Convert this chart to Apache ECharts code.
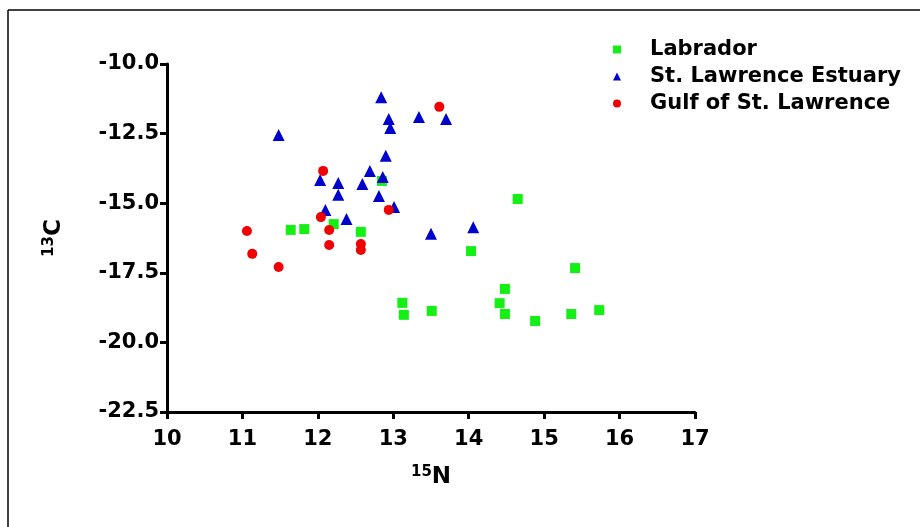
<!DOCTYPE html>
<html>
<head>
<meta charset="utf-8">
<script src="https://cdn.jsdelivr.net/npm/echarts@6/dist/echarts.min.js"></script>
<style>html,body{margin:0;padding:0;background:#fff;}#c{width:920px;height:527px;}</style>
</head>
<body>
<div id="c"></div>
<script>
const seriesNames = ['Labrador', 'St. Lawrence Estuary', 'Gulf of St. Lawrence'];
const labradorN = [11.64, 11.82, 12.21, 12.57, 12.85, 13.12, 13.14, 13.51, 14.03, 14.65, 14.41, 14.48, 14.48, 14.88, 15.36, 15.41, 15.73];
const labradorC = [-15.96, -15.93, -15.75, -16.03, -14.2, -18.58, -19.01, -18.87, -16.72, -14.85, -18.59, -18.08, -18.98, -19.23, -18.98, -17.33, -18.84];
const estuaryN = [11.48, 12.03, 12.1, 12.27, 12.27, 12.38, 12.59, 12.69, 12.81, 12.84, 12.86, 12.90, 12.94, 12.96, 13.01, 13.34, 13.50, 13.70, 14.06];
const estuaryC = [-12.55, -14.17, -15.24, -14.27, -14.7, -15.57, -14.31, -13.84, -14.74, -11.19, -14.06, -13.3, -11.98, -12.3, -15.14, -11.9, -16.1, -11.98, -15.86];
const gulfN = [11.06, 11.13, 11.48, 12.04, 12.07, 12.15, 12.15, 12.57, 12.57, 12.94, 13.61];
const gulfC = [-16.0, -16.82, -17.29, -15.5, -13.84, -15.96, -16.5, -16.47, -16.68, -15.24, -11.54];
const xTicks = [10, 11, 12, 13, 14, 15, 16, 17];
const yTicks = [-22.5, -20.0, -17.5, -15.0, -12.5, -10.0];

function pairs(xs, ys) { return xs.map((x, i) => [x, ys[i]]); }

const chart = echarts.init(document.getElementById('c'));
const font = 'DejaVu Sans, Liberation Sans, Arial, sans-serif';
const axisCommon = {
  axisLine: { show: true, onZero: false, lineStyle: { color: '#000', width: 3 } },
  axisTick: { show: true, length: 7, lineStyle: { color: '#000', width: 3 } },
  splitLine: { show: false },
  axisLabel: { color: '#000', fontFamily: font, fontWeight: 'bold', fontSize: 21 }
};
const richName = {
  sup: { fontFamily: font, fontWeight: 'bold', fontSize: 15, verticalAlign: 'top', color: '#000', padding: [0, 0, 10, 0] },
  base: { fontFamily: font, fontWeight: 'bold', fontSize: 23, color: '#000' }
};
chart.setOption({
  animation: false,
  backgroundColor: '#fff',
  grid: { left: 167, right: 225, top: 64, bottom: 115 },
  xAxis: Object.assign({}, axisCommon, {
    type: 'value', min: xTicks[0], max: xTicks[xTicks.length - 1], interval: 1,
    axisLabel: Object.assign({}, axisCommon.axisLabel, { margin: 17 }),
    name: '{sup|15}{base|N}', nameLocation: 'middle', nameGap: 53,
    nameTextStyle: { rich: richName }
  }),
  yAxis: Object.assign({}, axisCommon, {
    type: 'value', min: yTicks[0], max: yTicks[yTicks.length - 1], interval: 2.5,
    axisLabel: Object.assign({}, axisCommon.axisLabel, { margin: 8, formatter: v => v.toFixed(1) }),
    name: '{sup|13}{base|C}', nameLocation: 'middle', nameGap: 100, nameRotate: 90,
    nameTextStyle: { rich: richName }
  }),
  legend: {
    orient: 'vertical', left: 608, top: 34, itemGap: 6, itemWidth: 8, itemHeight: 8,
    textStyle: { color: '#000', fontFamily: font, fontWeight: 'bold', fontSize: 21, padding: [0, 0, 0, 24] },
    data: [
      { name: seriesNames[0], icon: 'rect' },
      { name: seriesNames[1], icon: 'triangle' },
      { name: seriesNames[2], icon: 'circle' }
    ]
  },
  series: [
    { name: seriesNames[0], type: 'scatter', symbol: 'rect', symbolSize: 10, itemStyle: { color: '#14f014', opacity: 1 }, data: pairs(labradorN, labradorC) },
    { name: seriesNames[1], type: 'scatter', symbol: 'triangle', symbolSize: 12, itemStyle: { color: '#0000cc', opacity: 1 }, data: pairs(estuaryN, estuaryC) },
    { name: seriesNames[2], type: 'scatter', symbol: 'circle', symbolSize: 10, itemStyle: { color: '#f00000', opacity: 1 }, data: pairs(gulfN, gulfC) }
  ],
  graphic: [
    { type: 'line', shape: { x1: 8, y1: 10, x2: 920, y2: 10 }, style: { stroke: '#000', lineWidth: 1.5 } },
    { type: 'line', shape: { x1: 8, y1: 10, x2: 8, y2: 527 }, style: { stroke: '#000', lineWidth: 1.5 } }
  ]
});
</script>
</body>
</html>
